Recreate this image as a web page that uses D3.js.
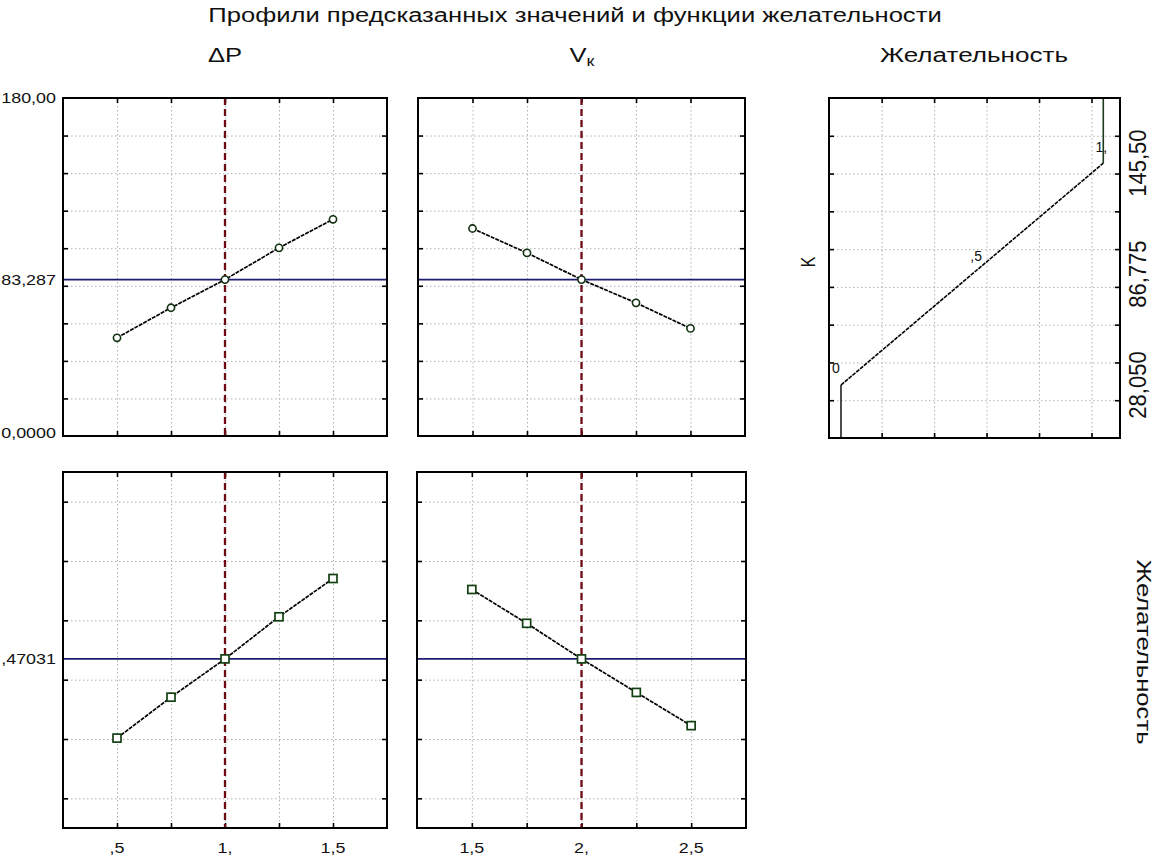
<!DOCTYPE html>
<html>
<head>
<meta charset="utf-8">
<script src="https://cdn.jsdelivr.net/npm/d3@7"></script>
<style>
body { margin: 0; background: #fff; }
svg { display: block; }
text { font-family: "Liberation Sans", Arial, sans-serif; fill: #111; }
.grid line { stroke: #b0b0b0; stroke-width: 1; stroke-dasharray: 1.5,2.5; }
.grid path, .ticks path { display: none; }
.ticks line { stroke: #000; stroke-width: 1.6; }
.frame { fill: none; stroke: #000; stroke-width: 2; }
</style>
</head>
<body>
<svg width="1157" height="859"></svg>
<script>
// values
var dpValues = [0.5, 0.75, 1, 1.25, 1.5];
var vkValues = [1.5, 1.75, 2, 2.25, 2.5];
var kForDp = [52.3, 68.3, 83.3, 100.2, 115.4];
var kForVk = [110.5, 97.5, 83.3, 70.9, 57.3];
var dForDp = [0.203, 0.341, 0.470, 0.612, 0.741];
var dForVk = [0.704, 0.590, 0.470, 0.357, 0.245];
var kCurrent = 83.287, dCurrent = 0.47031;
var dpCurrent = 1, vkCurrent = 2;

// grid / tick values
var kGrid = [20, 40, 60, 80, 100, 120, 140, 160];
var dGrid = [0, 0.2, 0.4, 0.6, 0.8, 1];
var desGrid = [0.155, 0.355, 0.555, 0.755, 0.955];

// desirability function for K
var desX = [0, 0, 1, 1];
var desK = [0, 28.05, 145.5, 180];
var desMarkX = [0, 0.5, 1];
var desMarkK = [28.05, 86.775, 145.5];
var desMarkLabels = ["0", ",5", "1,"];

// tick labels
var dpLabelAt = [0.5, 1, 1.5], dpLabels = [",5", "1,", "1,5"];
var vkLabelAt = [1.5, 2, 2.5], vkLabels = ["1,5", "2,", "2,5"];
var kLabelAt = [0, 83.287, 180], kLabels = ["0,0000", "83,287", "180,00"];
var dLabelAt = [0.47031], dLabels = [",47031"];
var desKLabelAt = [28.05, 86.775, 145.5], desKLabels = ["28,050", "86,775", "145,50"];

var svg = d3.select("svg");
var sx = 1.28; // the picture is stretched sideways

function label(x, y, str, size, anchor, extra) {
  return svg.append("text")
    .attr("transform", "translate(" + x + "," + y + ")" + (extra || " scale(" + sx + ",1)"))
    .attr("text-anchor", anchor)
    .attr("font-size", size)
    .text(str);
}

function panel(left, top, right, bottom, xDom, yDom, xTicks, yTicks) {
  var w = right - left, h = bottom - top;
  var g = svg.append("g").attr("transform", "translate(" + left + "," + top + ")");
  var x = d3.scaleLinear().domain(xDom).range([0, w]);
  var y = d3.scaleLinear().domain(yDom).range([h, 0]);

  // dotted grid
  g.append("g").attr("class", "grid")
    .call(d3.axisBottom(x).tickValues(xTicks).tickSize(h).tickFormat(""));
  g.append("g").attr("class", "grid")
    .call(d3.axisLeft(y).tickValues(yTicks).tickSize(-w).tickFormat(""));

  // inward ticks on all four sides
  g.append("g").attr("class", "ticks")
    .call(d3.axisTop(x).tickValues(xTicks).tickSize(-5).tickFormat(""));
  g.append("g").attr("class", "ticks").attr("transform", "translate(0," + h + ")")
    .call(d3.axisBottom(x).tickValues(xTicks).tickSize(-5).tickFormat(""));
  g.append("g").attr("class", "ticks")
    .call(d3.axisLeft(y).tickValues(yTicks).tickSize(-5).tickFormat(""));
  g.append("g").attr("class", "ticks").attr("transform", "translate(" + w + ",0)")
    .call(d3.axisRight(y).tickValues(yTicks).tickSize(-5).tickFormat(""));

  return {g: g, x: x, y: y, w: w, h: h};
}

function profile(p, xs, ys, xCur, yCur, shape) {
  // current level lines
  p.g.append("line")
    .attr("x1", 0).attr("x2", p.w)
    .attr("y1", p.y(yCur)).attr("y2", p.y(yCur))
    .attr("stroke", "#1c1c70").attr("stroke-width", 1.7);
  p.g.append("line")
    .attr("x1", p.x(xCur)).attr("x2", p.x(xCur))
    .attr("y1", 0).attr("y2", p.h)
    .attr("stroke", "#6e0a14").attr("stroke-width", 2.3)
    .attr("stroke-dasharray", "7,4");

  var pts = xs.map(function(v, i) { return [v, ys[i]]; });
  var line = d3.line()
    .x(function(d) { return p.x(d[0]); })
    .y(function(d) { return p.y(d[1]); });
  p.g.append("path")
    .attr("d", line(pts))
    .attr("fill", "none").attr("stroke", "#000")
    .attr("stroke-width", 1.7).attr("stroke-dasharray", "4,1");

  if (shape == "circle") {
    p.g.selectAll(".pt").data(pts).enter().append("circle")
      .attr("cx", function(d) { return p.x(d[0]); })
      .attr("cy", function(d) { return p.y(d[1]); })
      .attr("r", 3.6)
      .attr("fill", "#fff").attr("stroke", "#0f2f0f").attr("stroke-width", 1.6);
  } else {
    p.g.selectAll(".pt").data(pts).enter().append("rect")
      .attr("x", function(d) { return p.x(d[0]) - 4; })
      .attr("y", function(d) { return p.y(d[1]) - 4; })
      .attr("width", 8).attr("height", 8)
      .attr("fill", "#fff").attr("stroke", "#134013").attr("stroke-width", 1.7);
  }
  p.g.append("rect").attr("class", "frame").attr("width", p.w).attr("height", p.h);
}

// top row: predicted K
var p1 = panel(63, 98, 387, 436, [0.25, 1.75], [0, 180], dpValues, kGrid);
profile(p1, dpValues, kForDp, dpCurrent, kCurrent, "circle");
var p2 = panel(418, 98, 745, 436, [1.25, 2.75], [0, 180], vkValues, kGrid);
profile(p2, vkValues, kForVk, vkCurrent, kCurrent, "circle");

// bottom row: desirability
var p3 = panel(63, 472, 387, 828, [0.25, 1.75], [-0.1, 1.1], dpValues, dGrid);
profile(p3, dpValues, dForDp, dpCurrent, dCurrent, "square");
var p4 = panel(417, 472, 746, 828, [1.25, 2.75], [-0.1, 1.1], vkValues, dGrid);
profile(p4, vkValues, dForVk, vkCurrent, dCurrent, "square");

// desirability function of K
var p5 = panel(829, 98, 1120, 438, [-0.0457, 1.0637], [0, 180], desGrid, kGrid);
var dline = d3.line()
  .x(function(d) { return p5.x(d[0]); })
  .y(function(d) { return p5.y(d[1]); });
var des = desX.map(function(v, i) { return [v, desK[i]]; });
p5.g.append("path").attr("d", dline(des.slice(0, 2)))
  .attr("fill", "none").attr("stroke", "#222").attr("stroke-width", 1.6);
p5.g.append("path").attr("d", dline(des.slice(1, 3)))
  .attr("fill", "none").attr("stroke", "#000").attr("stroke-width", 1.6)
  .attr("stroke-dasharray", "4,1");
p5.g.append("path").attr("d", dline(des.slice(2, 4)))
  .attr("fill", "none").attr("stroke", "#1e3a1e").attr("stroke-width", 1.6);
var markOff = [[-5, -12], [4, -13], [-2, -11]];
desMarkX.forEach(function(v, i) {
  p5.g.append("text")
    .attr("x", p5.x(v) + markOff[i][0])
    .attr("y", p5.y(desMarkK[i]) + markOff[i][1])
    .attr("text-anchor", "middle").attr("font-size", 14)
    .attr("fill", i == 2 ? "#1f5f1f" : "#111")
    .text(desMarkLabels[i]);
});
p5.g.append("rect").attr("class", "frame").attr("width", p5.w).attr("height", p5.h);

// titles
label(575, 22, "Профили предсказанных значений и функции желательности", 20, "middle");
label(225, 62, "\u0394P", 20, "middle");
var vk = svg.append("text")
  .attr("transform", "translate(582,62) scale(" + sx + ",1)")
  .attr("text-anchor", "middle").attr("font-size", 20);
vk.append("tspan").text("V");
vk.append("tspan").attr("font-size", 14).attr("dy", 4).text("к");
label(974, 62, "Желательность", 20, "middle").attr("textLength", 147).attr("lengthAdjust", "spacingAndGlyphs");

// y tick labels
kLabelAt.forEach(function(v, i) {
  var yy = 98 + (436 - 98) * (1 - v / 180);
  if (i == 0) yy -= 3;
  label(56, yy + 5, kLabels[i], 14, "end");
});
dLabelAt.forEach(function(v, i) {
  label(56, 472 + p3.y(v) + 5, dLabels[i], 14, "end");
});

// x tick labels
dpLabelAt.forEach(function(v, i) {
  label(63 + p3.x(v), 853, dpLabels[i], 14, "middle");
});
vkLabelAt.forEach(function(v, i) {
  label(417 + p4.x(v), 853, vkLabels[i], 14, "middle");
});

// right side of the desirability panel
desKLabelAt.forEach(function(v, i) {
  label(1138, 98 + p5.y(v), desKLabels[i], 20, "middle", " rotate(-90) scale(1.1,1.2)")
    .attr("dy", "0.35em");
});
label(808, 262, "K", 16, "middle", " rotate(-90) scale(1,1.3)").attr("dy", "0.35em");
label(1137, 652, "Желательность", 18, "middle", " rotate(90) scale(1,1.15)")
  .attr("textLength", 185).attr("lengthAdjust", "spacingAndGlyphs");
</script>
</body>
</html>
